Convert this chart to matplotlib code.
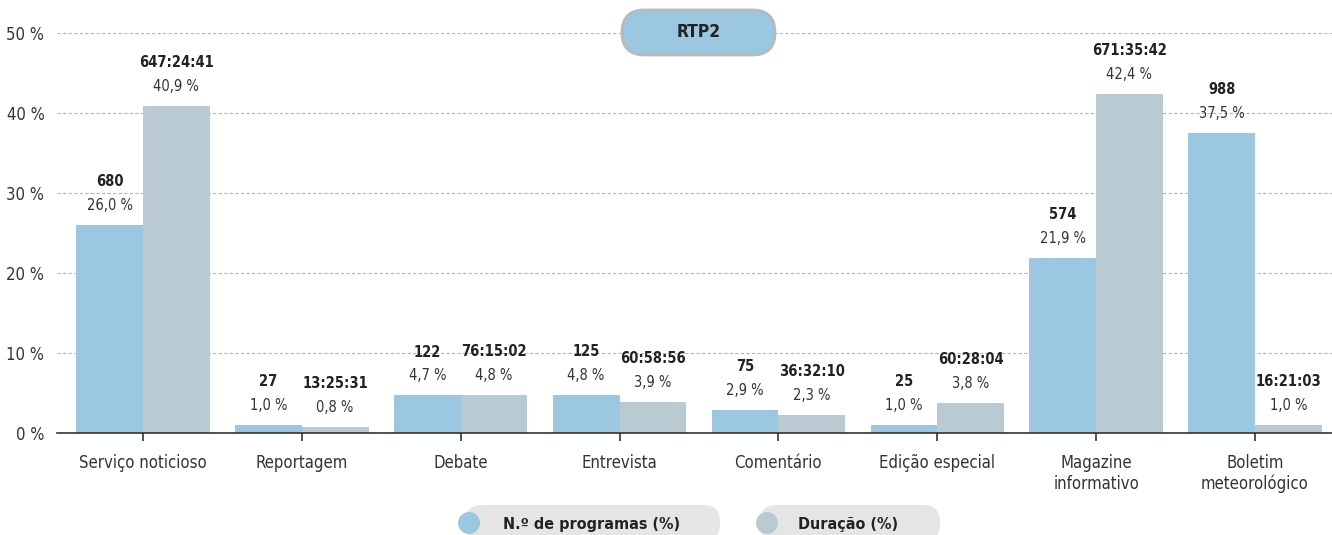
import matplotlib.pyplot as plt
from matplotlib.patches import FancyBboxPatch, Circle
from matplotlib import font_manager
import numpy as np

categorias = ['Serviço noticioso', 'Reportagem', 'Debate', 'Entrevista', 'Comentário',
              'Edição especial', 'Magazine\ninformativo', 'Boletim\nmeteorológico']
n_programas = [680, 27, 122, 125, 75, 25, 574, 988]
pct_programas = [26.0, 1.0, 4.7, 4.8, 2.9, 1.0, 21.9, 37.5]
duracao = ['647:24:41', '13:25:31', '76:15:02', '60:58:56', '36:32:10', '60:28:04',
           '671:35:42', '16:21:03']
pct_duracao = [40.9, 0.8, 4.8, 3.9, 2.3, 3.8, 42.4, 1.0]
y_ticks = [0, 10, 20, 30, 40, 50]

azul = '#9cc7e0'
cinza = '#b9cad2'
txt = '#333333'

plt.rcParams['font.family'] = ['DejaVu Sans']
plt.rcParams['font.stretch'] = 'condensed'
print([f.fname for f in font_manager.fontManager.ttflist if 'Condensed' in f.fname or 'Narrow' in f.fname][:10])

fig = plt.figure(figsize=(13.32, 5.35), dpi=100)
ax = fig.add_axes([57 / 1332, 102 / 535, 1275 / 1332, 400 / 535])

x = np.arange(len(categorias))
w = 0.42
ax.bar(x - w / 2, pct_programas, w, color=azul, zorder=2)
ax.bar(x + w / 2, pct_duracao, w, color=cinza, zorder=2)


def fmt(v):
    return f'{v:.1f}'.replace('.', ',') + ' %'


for i in range(len(x)):
    for xi, v, top in [(x[i] - w / 2, pct_programas[i], str(n_programas[i])),
                       (x[i] + w / 2, pct_duracao[i], duracao[i])]:
        ax.annotate(fmt(v), (xi, v), xytext=(0, 14), textcoords='offset points',
                    ha='center', va='center', fontsize=10.5, color=txt)
        ax.annotate(top, (xi, v), xytext=(0, 31), textcoords='offset points',
                    ha='center', va='center', fontsize=10.5, color='#222222',
                    fontweight='semibold')

ax.set_xlim(-0.541, 7.485)
ax.set_ylim(0, 50)
ax.set_yticks(y_ticks)
ax.set_yticklabels([f'{t} %' for t in y_ticks])
ax.set_xticks(x)
ax.set_xticklabels(categorias, fontsize=12, color=txt, linespacing=1.2)
ax.tick_params(axis='y', length=0, pad=9, labelsize=12, labelcolor=txt)
ax.tick_params(axis='x', length=6, width=1.2, color=txt, pad=9, direction='out')

for t in y_ticks[1:]:
    ax.axhline(t, color='#b5b5b5', lw=0.8, ls=(0, (3, 2)), zorder=1)

for s in ['top', 'right', 'left']:
    ax.spines[s].set_visible(False)
ax.spines['bottom'].set_color(txt)
ax.spines['bottom'].set_linewidth(1.2)

# titulo em forma de pilula
tr = fig.dpi_scale_trans
pill = FancyBboxPatch((6.22, 4.80), 1.53, 0.45, boxstyle='round,pad=0,rounding_size=0.225',
                      fc=azul, ec='#b3bbbf', lw=2, transform=tr, zorder=5)
fig.add_artist(pill)
fig.text(6.985, 5.03, 'RTP2', transform=tr, ha='center', va='center', fontsize=12.5,
         fontweight='semibold', color='#222222', zorder=6)

# legenda
leg = [(4.65, 2.55, 4.69, azul, 'N.º de programas (%)', 5.92),
       (7.60, 1.80, 7.67, cinza, 'Duração (%)', 8.48)]
for x0, lw_, cx, cor, rot, tx in leg:
    fig.add_artist(FancyBboxPatch((x0, -0.06), lw_, 0.36,
                                  boxstyle='round,pad=0,rounding_size=0.17',
                                  fc='#e5e5e5', ec='none', transform=tr))
    fig.add_artist(Circle((cx, 0.12), 0.11, fc=cor, ec='none', transform=tr))
    fig.text(tx, 0.11, rot, transform=tr, ha='center', va='center', fontsize=11.5,
             fontweight='semibold', color='#222222')

fig.savefig('out.png', dpi=100)
